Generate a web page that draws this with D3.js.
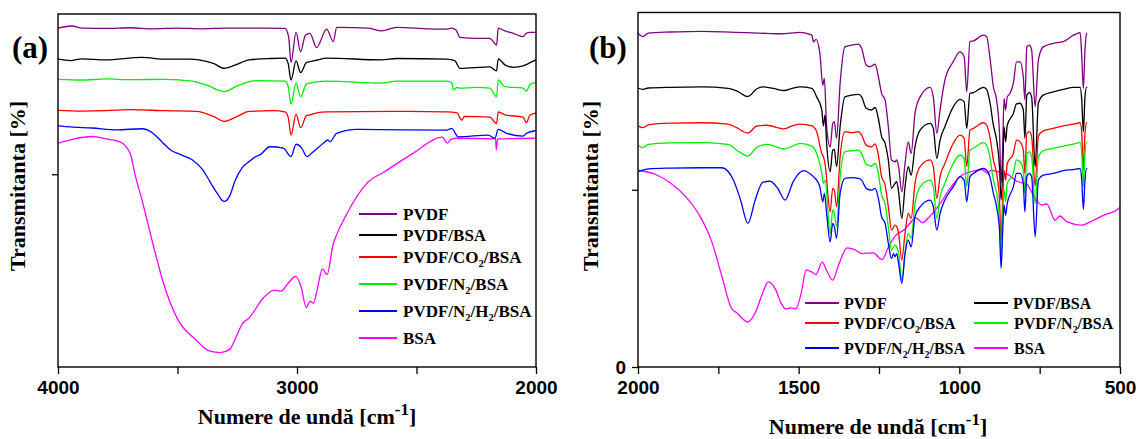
<!DOCTYPE html>
<html lang="en">
<head>
<meta charset="utf-8" />
<script src="https://d3js.org/d3.v7.min.js"></script>
<title>FTIR</title>
<style>
  body { margin: 0; background: #fff; }
  svg text { font-family: 'Liberation Serif', 'Times New Roman', serif; font-weight: bold; fill: #000; }
  .tick text { font-family: 'Liberation Sans', Arial, sans-serif; font-weight: bold; font-size: 19px; }
</style>
</head>
<body>
<div id="chart"></div>
<script>
// series names and colours (same order in both panels)
var seriesNames = ["PVDF", "PVDF/BSA", "PVDF/CO_2/BSA", "PVDF/N_2/BSA", "PVDF/N_2/H_2/BSA", "BSA"];
var seriesColors = ["#800080", "#000000", "#ff0000", "#00ee00", "#0000ff", "#ff00ff"];

// panel (a): 4000-2000 cm-1, [wavenumber, transmittance %]
var aPVDF = [[4000,96.0],[3941,96.6],[3900,96.0],[3800,95.9],[3700,96.1],[3600,95.8],[3500,96.0],[3400,95.8],[3300,96.0],[3150,96.0],[3050,95.9],[3035,93.5],[3025,86.3],[3004,94.8],[2985,89.3],[2965,94.0],[2946,94.5],[2918,90.5],[2876,95.7],[2848,92.2],[2834,96.2],[2700,96.0],[2646,95.2],[2583,96.2],[2450,95.8],[2374,95.7],[2353,96.0],[2335,95.5],[2318,93.4],[2250,93.1],[2193,93.1],[2165,91.2],[2158,96.0],[2130,95.2],[2095,94.5],[2054,93.6],[2040,94.6],[2025,94.8],[2000,94.8]];
var aPVDFBSA = [[4000,87.2],[3948,86.8],[3900,87.3],[3800,87.0],[3649,87.7],[3550,87.2],[3450,87.2],[3410,87.0],[3350,86.0],[3305,84.6],[3260,85.5],[3200,87.0],[3110,87.4],[3050,87.5],[3037,86.0],[3025,81.3],[3004,86.7],[2985,83.4],[2960,86.3],[2946,86.5],[2918,86.9],[2876,87.5],[2646,87.0],[2583,87.4],[2374,87.2],[2340,86.8],[2318,84.6],[2193,85.0],[2165,83.9],[2158,87.3],[2130,85.6],[2095,84.9],[2054,85.3],[2025,86.2],[2000,87.0]];
var aCO2 = [[4000,72.7],[3900,72.5],[3800,72.6],[3700,72.9],[3550,72.6],[3420,72.4],[3350,71.0],[3305,69.6],[3250,71.0],[3200,72.4],[3100,72.6],[3050,72.3],[3037,70.8],[3025,65.7],[3004,71.6],[2985,67.8],[2960,71.2],[2946,71.4],[2918,72.0],[2876,72.3],[2600,72.4],[2374,72.3],[2330,72.0],[2318,70.5],[2310,69.9],[2300,71.0],[2193,70.8],[2165,69.0],[2158,72.3],[2130,71.4],[2054,70.8],[2040,69.2],[2025,71.4],[2000,71.9]];
var aN2 = [[4000,81.5],[3900,81.3],[3800,81.6],[3700,81.4],[3550,81.5],[3439,81.0],[3380,79.9],[3305,78.0],[3245,79.8],[3170,81.1],[3050,81.0],[3037,79.5],[3025,74.4],[3004,80.5],[2985,76.6],[2960,80.2],[2946,80.4],[2918,80.8],[2876,81.0],[2646,80.4],[2583,81.0],[2374,81.0],[2353,80.6],[2346,78.5],[2330,79.2],[2318,79.0],[2250,79.2],[2193,79.0],[2165,76.6],[2158,81.3],[2130,79.4],[2054,79.0],[2040,78.2],[2025,80.0],[2000,80.6]];
var aN2H2 = [[4000,68.3],[3948,68.0],[3858,67.7],[3753,67.2],[3649,67.5],[3604,66.3],[3567,63.9],[3529,61.5],[3484,60.1],[3439,58.7],[3395,55.9],[3365,52.6],[3335,49.3],[3305,46.9],[3282,48.4],[3260,52.6],[3230,56.4],[3200,58.2],[3170,59.7],[3155,60.1],[3113,62.4],[3057,62.0],[3025,59.6],[3004,63.1],[2980,62.0],[2959,59.6],[2932,61.0],[2890,63.4],[2871,64.3],[2862,63.8],[2834,66.2],[2750,67.3],[2374,67.1],[2353,67.6],[2325,65.2],[2200,65.7],[2172,64.8],[2158,67.3],[2123,66.2],[2054,65.4],[2040,66.2],[2000,67.0]];
var aBSA = [[4000,63.4],[3940,64.5],[3858,65.3],[3800,64.6],[3746,63.9],[3723,63.0],[3694,59.7],[3679,54.9],[3649,47.4],[3604,35.2],[3559,23.8],[3499,13.5],[3425,7.8],[3365,4.5],[3320,4.1],[3282,5.0],[3253,8.8],[3230,12.1],[3200,13.9],[3140,19.6],[3096,21.8],[3066,21.5],[3036,23.8],[3006,25.7],[2984,23.0],[2961,16.8],[2946,18.6],[2931,18.1],[2916,21.8],[2894,27.8],[2874,26.2],[2849,34.7],[2834,37.5],[2797,42.7],[2707,52.1],[2632,55.4],[2513,60.6],[2393,65.1],[2371,63.4],[2356,64.5],[2333,64.8],[2169,64.6],[2166,61.5],[2161,64.6],[2000,64.8]];

// panel (b): 2000-500 cm-1
var bPVDF = [[2000,94.2],[1985,93.2],[1968,94.2],[1900,94.5],[1800,94.7],[1700,94.4],[1600,94.1],[1555,94.0],[1496,94.4],[1459,93.6],[1454,91.7],[1446,92.4],[1434,88.5],[1425,79.5],[1420,81.4],[1413,67.8],[1402,62.1],[1394,68.7],[1389,69.2],[1382,64.5],[1371,80.0],[1356,90.3],[1335,90.8],[1314,91.1],[1304,89.9],[1290,85.2],[1278,84.7],[1262,85.4],[1252,81.9],[1242,77.2],[1231,75.3],[1221,67.8],[1211,58.4],[1200,57.9],[1195,58.4],[1189,56.5],[1179,49.4],[1169,57.4],[1159,63.5],[1150,60.2],[1138,71.5],[1122,76.2],[1091,78.9],[1081,76.2],[1070,65.9],[1060,72.5],[1045,80.9],[1019,86.1],[998,88.9],[985,87.5],[977,77.6],[967,91.8],[956,92.0],[925,93.6],[915,93.2],[905,87.5],[894,79.0],[884,75.3],[875,65.9],[870,52.0],[865,62.0],[861,75.8],[856,72.5],[851,76.2],[842,77.2],[832,80.0],[822,86.1],[811,86.1],[801,81.9],[796,75.3],[790,90.3],[782,90.8],[775,89.4],[764,73.4],[754,86.6],[739,90.3],[707,91.3],[676,91.8],[645,93.6],[624,94.3],[619,87.5],[614,78.6],[609,89.4],[604,94.1],[602,94.2]];
var bPVDFBSA = [[2000,78.7],[1985,78.3],[1968,78.7],[1900,78.9],[1800,79.0],[1720,78.6],[1693,77.9],[1658,76.3],[1630,78.5],[1612,79.0],[1580,78.6],[1545,78.0],[1520,78.6],[1496,79.0],[1459,78.6],[1444,76.2],[1428,72.5],[1423,68.0],[1418,71.1],[1413,63.1],[1402,55.1],[1394,61.2],[1389,61.4],[1382,56.5],[1371,67.8],[1356,76.2],[1335,76.7],[1314,76.9],[1304,76.2],[1290,73.0],[1273,72.5],[1262,73.2],[1252,70.1],[1242,65.0],[1231,63.1],[1221,58.4],[1211,50.4],[1200,51.8],[1195,52.3],[1189,49.4],[1179,41.9],[1169,50.8],[1159,56.5],[1150,54.1],[1138,62.1],[1122,66.8],[1091,68.7],[1081,67.3],[1070,58.8],[1060,64.0],[1045,67.8],[1019,73.4],[998,75.5],[985,74.8],[977,67.3],[967,77.2],[956,77.4],[925,78.9],[915,78.3],[905,74.8],[894,68.2],[884,64.0],[875,56.5],[870,47.1],[865,55.0],[861,67.8],[856,63.5],[851,68.2],[832,71.5],[822,74.2],[811,74.4],[801,72.5],[796,64.5],[790,76.7],[782,77.4],[775,76.2],[764,56.5],[754,74.4],[739,76.7],[707,77.6],[676,78.3],[645,78.9],[624,78.9],[619,75.3],[614,66.4],[609,76.2],[604,78.9],[602,78.9]];
var bCO2 = [[2000,68.0],[1985,67.5],[1968,68.3],[1900,68.8],[1800,68.9],[1720,68.5],[1693,67.5],[1658,66.0],[1630,68.0],[1600,68.2],[1545,67.2],[1520,68.0],[1496,68.5],[1459,68.0],[1444,66.4],[1428,60.2],[1423,59.3],[1418,57.4],[1402,43.8],[1394,50.4],[1389,49.9],[1382,45.2],[1371,59.3],[1356,66.4],[1335,66.1],[1314,66.4],[1304,65.4],[1290,62.6],[1273,62.1],[1262,62.9],[1252,59.8],[1242,53.7],[1231,51.3],[1221,45.2],[1211,38.6],[1200,40.0],[1195,39.6],[1189,37.7],[1179,30.2],[1169,37.7],[1159,43.3],[1150,41.9],[1138,51.8],[1122,56.5],[1091,58.4],[1081,56.5],[1070,47.6],[1060,53.7],[1045,57.4],[1019,63.1],[998,65.4],[985,64.5],[977,56.5],[967,66.8],[956,67.3],[925,68.9],[915,68.2],[905,65.0],[894,58.4],[884,54.6],[875,47.1],[870,35.8],[865,47.1],[861,55.5],[856,52.7],[851,57.4],[832,60.2],[822,64.0],[811,63.5],[801,61.2],[796,54.6],[790,65.9],[782,66.4],[775,65.0],[764,51.0],[754,65.0],[739,66.6],[707,67.3],[676,68.0],[645,68.5],[624,68.9],[619,65.9],[614,55.5],[609,65.9],[604,68.9],[602,68.9]];
var bN2 = [[2000,62.5],[1985,61.9],[1968,62.8],[1900,63.2],[1800,63.3],[1720,62.8],[1690,61.0],[1658,59.5],[1630,62.0],[1600,62.8],[1545,61.5],[1520,62.3],[1496,63.1],[1459,62.3],[1444,60.2],[1428,54.6],[1423,51.8],[1418,52.7],[1402,37.7],[1394,44.3],[1389,43.3],[1382,39.6],[1371,53.7],[1356,60.7],[1335,61.0],[1314,61.2],[1304,60.2],[1290,57.2],[1273,56.7],[1262,57.4],[1252,54.6],[1242,48.5],[1231,46.1],[1221,39.6],[1211,33.0],[1200,34.4],[1195,33.9],[1189,32.0],[1179,24.5],[1169,32.0],[1159,37.7],[1150,36.3],[1138,46.1],[1122,50.8],[1091,52.7],[1081,50.8],[1070,41.9],[1060,48.0],[1045,51.8],[1019,57.4],[998,59.8],[985,58.8],[977,50.8],[967,61.2],[956,61.7],[925,63.3],[915,62.6],[905,59.3],[894,52.7],[884,49.0],[875,41.4],[870,31.1],[865,42.4],[861,49.9],[856,46.6],[851,51.8],[832,54.6],[822,58.4],[811,57.9],[801,55.5],[796,49.0],[790,60.2],[782,60.7],[775,59.3],[764,46.1],[754,59.3],[739,61.0],[707,61.7],[676,62.3],[645,62.9],[624,63.3],[619,60.2],[614,50.8],[609,60.2],[604,63.3],[602,63.3]];
var bN2H2 = [[2000,55.2],[1985,55.5],[1968,55.9],[1900,56.1],[1800,56.2],[1739,56.2],[1704,52.9],[1681,47.2],[1658,40.5],[1635,47.2],[1612,52.1],[1589,52.4],[1566,50.5],[1542,47.1],[1517,52.3],[1485,55.4],[1459,54.1],[1454,53.7],[1444,52.7],[1434,50.8],[1425,46.6],[1420,49.0],[1413,43.3],[1402,35.3],[1394,40.5],[1389,39.6],[1382,36.3],[1371,49.0],[1356,53.2],[1335,53.4],[1314,53.2],[1304,52.7],[1290,50.4],[1273,49.9],[1262,50.4],[1252,47.6],[1242,42.4],[1231,40.5],[1221,34.9],[1211,30.6],[1205,32.0],[1200,31.1],[1195,32.0],[1189,29.2],[1179,23.6],[1169,32.0],[1159,35.8],[1150,33.9],[1138,42.4],[1122,45.2],[1091,47.1],[1081,45.2],[1070,38.6],[1060,43.3],[1045,47.1],[1019,50.8],[998,53.7],[985,52.7],[977,46.6],[967,53.7],[956,54.6],[925,56.0],[915,55.5],[905,53.7],[894,49.0],[884,45.2],[875,38.6],[870,27.8],[865,38.6],[861,45.7],[856,42.8],[851,46.1],[832,50.8],[822,54.6],[811,54.6],[801,51.8],[796,43.8],[790,53.7],[782,54.6],[775,53.7],[764,36.7],[754,52.7],[739,54.1],[707,54.6],[676,55.4],[645,55.7],[624,56.0],[619,52.7],[614,44.5],[609,52.7],[604,56.0],[602,56.0]];
var bBSA = [[2000,55.5],[1945,54.3],[1899,51.9],[1853,48.2],[1807,42.5],[1773,36.0],[1739,25.6],[1710,16.7],[1693,15.3],[1658,12.7],[1635,15.3],[1612,20.9],[1595,24.0],[1572,21.9],[1555,18.1],[1541,16.4],[1521,16.7],[1509,16.4],[1492,20.9],[1477,27.3],[1463,27.0],[1446,26.1],[1427,29.6],[1412,27.0],[1394,24.5],[1377,28.5],[1349,33.6],[1326,33.1],[1303,32.0],[1268,32.2],[1240,30.3],[1222,33.6],[1200,36.9],[1171,38.8],[1154,40.5],[1136,42.1],[1114,40.7],[1096,42.1],[1062,45.8],[1028,50.5],[998,53.7],[959,55.2],[930,55.7],[913,54.7],[901,55.5],[884,55.2],[867,54.7],[853,54.5],[821,52.4],[790,51.6],[770,48.5],[744,45.7],[728,46.0],[702,41.4],[687,42.6],[666,41.0],[619,40.0],[583,41.4],[546,43.0],[517,43.9],[500,45.0]];

// ticks
var aXTicks = [4000, 3500, 3000, 2500, 2000];
var aXTickLabels = ["4000", "", "3000", "", "2000"];
var aYTicks = [54.6];
var bXTicks = [2000, 1750, 1500, 1250, 1000, 750, 500];
var bXTickLabels = ["2000", "", "1500", "", "1000", "", "500"];
var bYTicks = [0, 50];
var bYTickLabels = ["0", ""];

var W = 1138, H = 439;
var svg = d3.select("#chart").append("svg").attr("width", W).attr("height", H);

function addLabel(sel, label, size) {
    // "_2" -> subscript 2
    var parts = label.split(/_(\d)/);
    parts.forEach(function (p, i) {
        if (p === "") return;
        if (i % 2 === 1) {
            sel.append("tspan").attr("font-size", size * 0.62).attr("dy", 4).text(p);
        } else {
            var t = sel.append("tspan").text(p);
            if (i > 0) t.attr("dy", -4);
        }
    });
}

function drawPanel(cfg) {
    var x = d3.scaleLinear().domain(cfg.xDomain).range([cfg.left, cfg.right]);
    var y = d3.scaleLinear().domain([0, 100]).range([cfg.bottom, cfg.top]);

    var line = d3.line()
        .x(function (d) { return x(d[0]); })
        .y(function (d) { return y(d[1]); })
        .curve(d3.curveMonotoneX);

    var g = svg.append("g");

    // curves (BSA first so the others sit on top like in the original)
    var order = [5, 0, 1, 2, 3, 4];
    order.forEach(function (i) {
        g.append("path")
            .attr("d", line(cfg.series[i]))
            .attr("fill", "none")
            .attr("stroke", seriesColors[i])
            .attr("stroke-width", 1.3);
    });

    var xAxis = d3.axisBottom(x).tickValues(cfg.xTicks).tickSize(7).tickPadding(7)
        .tickFormat(function (d, i) { return cfg.xTickLabels[i]; });
    var gx = g.append("g").attr("transform", "translate(0," + cfg.bottom + ")").call(xAxis);
    gx.select(".domain").remove();
    gx.selectAll(".tick line").attr("stroke-width", 1.3);

    var yAxis = d3.axisLeft(y).tickValues(cfg.yTicks).tickSize(6).tickPadding(6)
        .tickFormat(function (d, i) { return cfg.yTickLabels ? cfg.yTickLabels[i] : ""; });
    var gy = g.append("g").attr("transform", "translate(" + cfg.left + ",0)").call(yAxis);
    gy.select(".domain").remove();
    gy.selectAll(".tick line").attr("stroke-width", 1.3);

    g.append("rect")
        .attr("x", cfg.left).attr("y", cfg.top)
        .attr("width", cfg.right - cfg.left).attr("height", cfg.bottom - cfg.top)
        .attr("fill", "none").attr("stroke", "#000").attr("stroke-width", 1.4);

    // panel letter
    g.append("text").attr("x", cfg.letterX).attr("y", 58).attr("font-size", 31).text(cfg.letter);

    // y title
    g.append("text")
        .attr("transform", "translate(" + cfg.yTitleX + ",186) rotate(-90)")
        .attr("text-anchor", "middle").attr("font-size", 22)
        .text("Transmitanta [%]");

    // x title
    var xt = g.append("text").attr("x", cfg.xTitleX).attr("y", cfg.xTitleY)
        .attr("text-anchor", "middle").attr("font-size", 22);
    xt.append("tspan").text("Numere de undă [cm");
    xt.append("tspan").attr("font-size", 17).attr("dy", -9).text("-1");
    xt.append("tspan").attr("dy", 9).text("]");

    // legend
    cfg.legend.forEach(function (L, i) {
        g.append("line")
            .attr("x1", L[0]).attr("x2", L[1]).attr("y1", L[3]).attr("y2", L[3])
            .attr("stroke", seriesColors[i]).attr("stroke-width", 2);
        var t = g.append("text").attr("x", L[2]).attr("y", L[3] + 6).attr("font-size", cfg.legendSize);
        addLabel(t, seriesNames[i], cfg.legendSize);
    });
}

drawPanel({
    left: 58, right: 536, top: 14, bottom: 367,
    xDomain: [4000, 2000],
    xTicks: aXTicks, xTickLabels: aXTickLabels, yTicks: aYTicks,
    series: [aPVDF, aPVDFBSA, aCO2, aN2, aN2H2, aBSA],
    letter: "(a)", letterX: 12, yTitleX: 25, xTitleX: 307, xTitleY: 424,
    legendSize: 17,
    legend: [[359, 397, 403, 214], [359, 397, 403, 235], [359, 397, 403, 257],
             [359, 397, 403, 284], [359, 397, 403, 311], [359, 397, 403, 338]]
});

drawPanel({
    left: 638, right: 1120, top: 12.5, bottom: 367,
    xDomain: [2000, 500],
    xTicks: bXTicks, xTickLabels: bXTickLabels, yTicks: bYTicks, yTickLabels: bYTickLabels,
    series: [bPVDF, bPVDFBSA, bCO2, bN2, bN2H2, bBSA],
    letter: "(b)", letterX: 589, yTitleX: 598, xTitleX: 878, xTitleY: 434,
    legendSize: 16,
    legend: [[805, 839, 844, 303], [974, 1008, 1013, 303], [805, 839, 844, 323],
             [974, 1008, 1014, 323], [805, 839, 844, 348], [974, 1008, 1014, 348]]
});
</script>
</body>
</html>
